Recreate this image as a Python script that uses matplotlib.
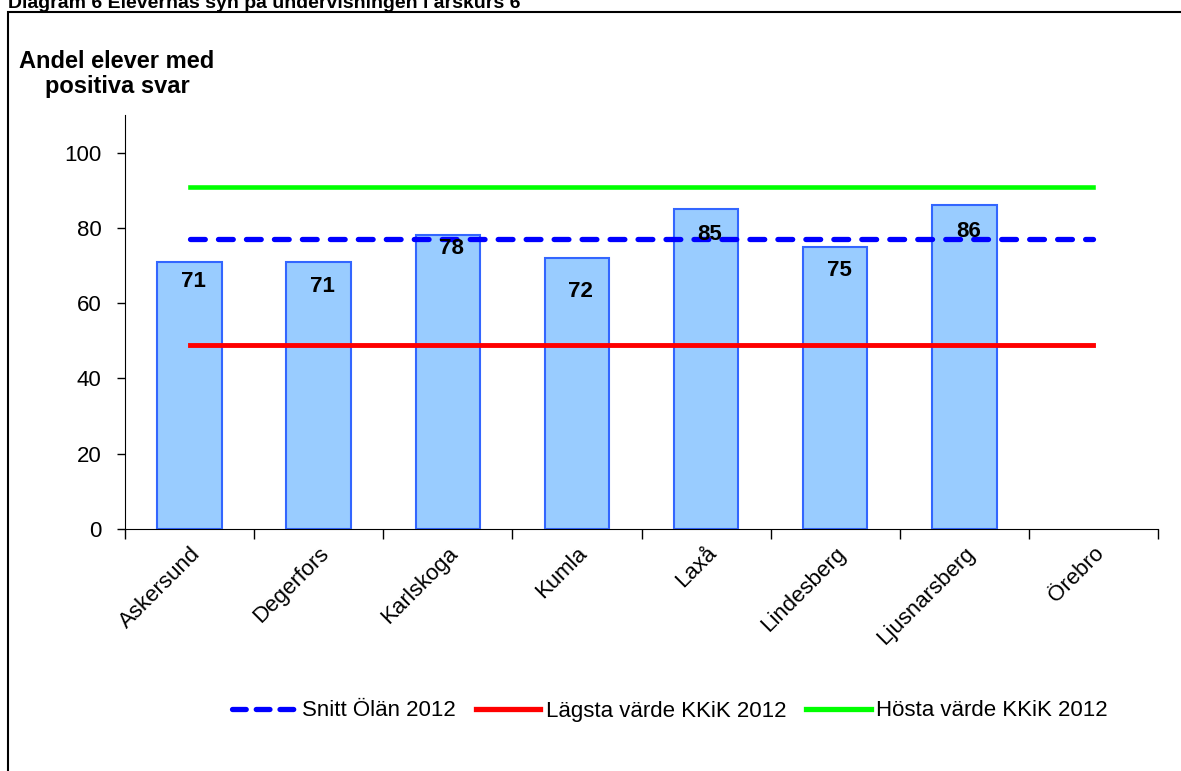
import numpy as np
import matplotlib
matplotlib.use("Agg")
from matplotlib import pyplot as plt
from matplotlib.patches import Rectangle
from matplotlib.lines import Line2D

plt.rcParams['font.family'] = ['Liberation Sans', 'DejaVu Sans']

# data
kommuner = ["Askersund", "Degerfors", "Karlskoga", "Kumla", "Laxå",
            "Lindesberg", "Ljusnarsberg", "Örebro"]
andel = [71, 71, 78, 72, 85, 75, 86, np.nan]
snitt_olan = 77
lagsta_kkik = 49
hosta_kkik = 91

# label placement below bar top (as in the original chart)
label_drop = [5.3, 6.6, 3.5, 9.0, 6.8, 6.4, 7.0]

fig = plt.figure(figsize=(11.81, 7.71), dpi=100)
ax = fig.add_axes([125/1181, 1 - 529/771, (1158 - 125)/1181, (529 - 115)/771])

x = np.arange(len(kommuner))
ax.bar(x, andel, width=0.5, color="#99CCFF", edgecolor="#3366FF", linewidth=1.5, zorder=2)

n = len(kommuner)
ax.plot([0, n - 1], [snitt_olan] * 2, color="#0000FF", lw=3.8, dashes=(2.8, 2.5),
        dash_capstyle="round", zorder=4)
ax.plot([0, n - 1], [lagsta_kkik] * 2, color="#FF0000", lw=3.5, zorder=3)
ax.plot([0, n - 1], [hosta_kkik] * 2, color="#00FF00", lw=3.3, zorder=3)

for i, v in enumerate(andel):
    if np.isnan(v):
        continue
    ax.text(i + 0.03, v - label_drop[i], str(int(v)), ha="center", va="center",
            fontsize=16, fontweight="bold", zorder=5)

ax.set_xlim(-0.5, n - 0.5)
ax.set_ylim(0, 110)
ax.set_yticks([0, 20, 40, 60, 80, 100])
ax.tick_params(axis="y", labelsize=16, direction="out", length=6, width=1, pad=11)
ax.set_xticks(x)
ax.set_xticklabels(kommuner, rotation=45, ha="right", rotation_mode="anchor", fontsize=16)
ax.tick_params(axis="x", length=0, pad=10)
ax.set_xticks(np.arange(-0.5, n), minor=True)
ax.tick_params(axis="x", which="minor", length=7, direction="out", width=1)
for s in ["top", "right"]:
    ax.spines[s].set_visible(False)

fig.text(117/1181, 1 - 74/771, "Andel elever med\npositiva svar", ha="center", va="center",
         fontsize=17, fontweight="bold", linespacing=1.15)

fig.text(8/1181, 1 - 8/771, "Diagram 6 Elevernas syn på undervisningen i årskurs 6",
         ha="left", va="baseline", fontsize=14, fontweight="bold")

fig.patches.append(Rectangle((8/1181, -0.1), 2, 1.1 - 12/771, transform=fig.transFigure,
                             fill=False, edgecolor="black", linewidth=1.5))

handles = [
    Line2D([], [], color="#0000FF", lw=3.8, dashes=(2.6, 1.9), dash_capstyle="round"),
    Line2D([], [], color="#FF0000", lw=3.8),
    Line2D([], [], color="#00FF00", lw=3.8),
]
fig.legend(handles, ["Snitt Ölän 2012", "Lägsta värde KKiK 2012", "Hösta värde KKiK 2012"],
           loc="center", bbox_to_anchor=(670/1181, 1 - 711/771), ncol=3, frameon=False,
           fontsize=16, handlelength=2.9, handletextpad=0.25, columnspacing=0.9)

fig.savefig("out.png", dpi=100)
